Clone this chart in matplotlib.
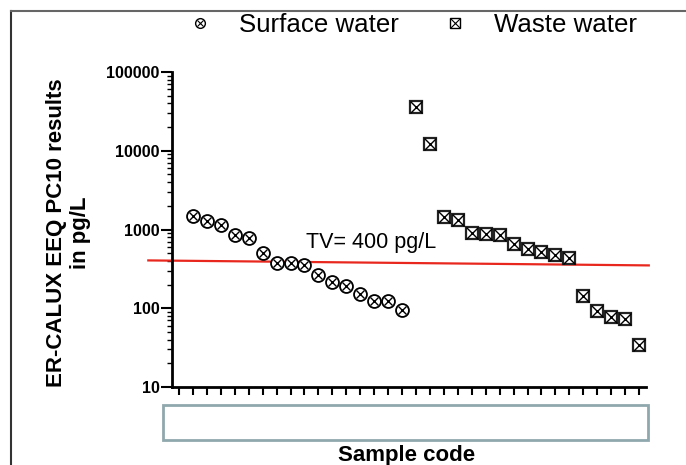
import matplotlib
matplotlib.use("Agg")
import matplotlib.pyplot as plt
from matplotlib.lines import Line2D
from matplotlib.patches import Rectangle
import numpy as np

plt.rcParams['font.family'] = ['Liberation Sans', 'DejaVu Sans']

# Data (pg/L)
surface_water = [1470, 1270, 1150, 860, 790, 510, 380, 380, 350, 268, 217,
                 190, 150, 122, 122, 94]
waste_water = [35700, 12300, 1430, 1310, 890, 865, 850, 660, 560, 520, 480,
               438, 141, 92, 78, 72, 34]
tv_value = 400
tv_line_ends = [405, 350]   # red line drawn slightly sloped in the original
y_ticks = [10, 100, 1000, 10000, 100000]
y_tick_labels = ['10', '100', '1000', '10000', '100000']
n_ticks = 34

x_surface = np.arange(1, len(surface_water) + 1)
x_waste = np.arange(len(surface_water) + 1, len(surface_water) + len(waste_water) + 1)

fig = plt.figure(figsize=(6.86, 4.65), dpi=100)
ax = fig.add_axes([172/686, 1-387/465, (646-172)/686, (387-72)/465])

ms = 9.3
ax.plot(x_surface, surface_water, 'o', ms=ms, mfc='white', mec='black', mew=1.3, ls='none', zorder=3)
ax.plot(x_surface, surface_water, 'x', ms=ms*0.68, mec='black', mew=1.0, ls='none', zorder=4)
ax.plot(x_waste, waste_water, 's', ms=ms, mfc='white', mec='#222222', mew=1.6, ls='none', zorder=3)
ax.plot(x_waste, waste_water, 'x', ms=ms, mec='black', mew=1.0, ls='none', zorder=4)

ax.plot([-2.2, 33.7], tv_line_ends, color='#e8281e', lw=1.6, clip_on=False, zorder=2)
ax.text(9.1, 680, f'TV= {tv_value} pg/L', fontsize=15.5, ha='left', va='center')

ax.set_yscale('log')
ax.set_ylim(10, 100000)
ax.set_xlim(-0.5, 33.5)
ax.set_yticks(y_ticks)
ax.set_yticklabels(y_tick_labels, fontweight='bold', fontsize=11.5)
ax.set_xticks(np.arange(n_ticks))
ax.set_xticklabels([])
ax.tick_params(axis='y', which='major', length=8, width=1.5, direction='out', pad=1)
ax.tick_params(axis='y', which='minor', length=3.5, width=1.0, direction='out')
ax.tick_params(axis='x', which='major', length=5.5, width=1.5, direction='out')
for s in ['top', 'right']:
    ax.spines[s].set_visible(False)
for s in ['left', 'bottom']:
    ax.spines[s].set_linewidth(2)

ax.set_ylabel('ER-CALUX EEQ PC10 results\nin pg/L', fontsize=16, fontweight='bold',
              linespacing=1.2)
ax.yaxis.set_label_coords(-0.17, 0.49)

# box below the axis and x label
fig.add_artist(Rectangle((162.5/686, 1-440/465), (648-162.5)/686, (440-405)/465,
                         transform=fig.transFigure, fill=False, ec='#8fa8ad', lw=2))
fig.text(407/686, 1-455/465, 'Sample code', ha='center', va='center', fontsize=16, fontweight='bold')

# frame lines
fig.add_artist(Line2D([11/686, 11/686], [0, 1-11/465], transform=fig.transFigure, color='#333333', lw=1.5))
fig.add_artist(Line2D([11/686, 1], [1-11/465, 1-11/465], transform=fig.transFigure, color='#666666', lw=1.5))

# legend
h1 = (Line2D([], [], marker='o', ms=7, mfc='white', mec='black', mew=1.0, ls='none'),
      Line2D([], [], marker='x', ms=4.8, mec='black', mew=0.8, ls='none'))
h2 = (Line2D([], [], marker='s', ms=7, mfc='white', mec='black', mew=1.0, ls='none'),
      Line2D([], [], marker='x', ms=7, mec='black', mew=0.8, ls='none'))
fig.legend([h1, h2], ['Surface water', 'Waste water'], ncol=2, frameon=False,
           loc='center', bbox_to_anchor=(412/686, 1-25/465), fontsize=18.6,
           handletextpad=1.0, columnspacing=1.7, handlelength=1.0)

fig.savefig('out.png', dpi=100)
